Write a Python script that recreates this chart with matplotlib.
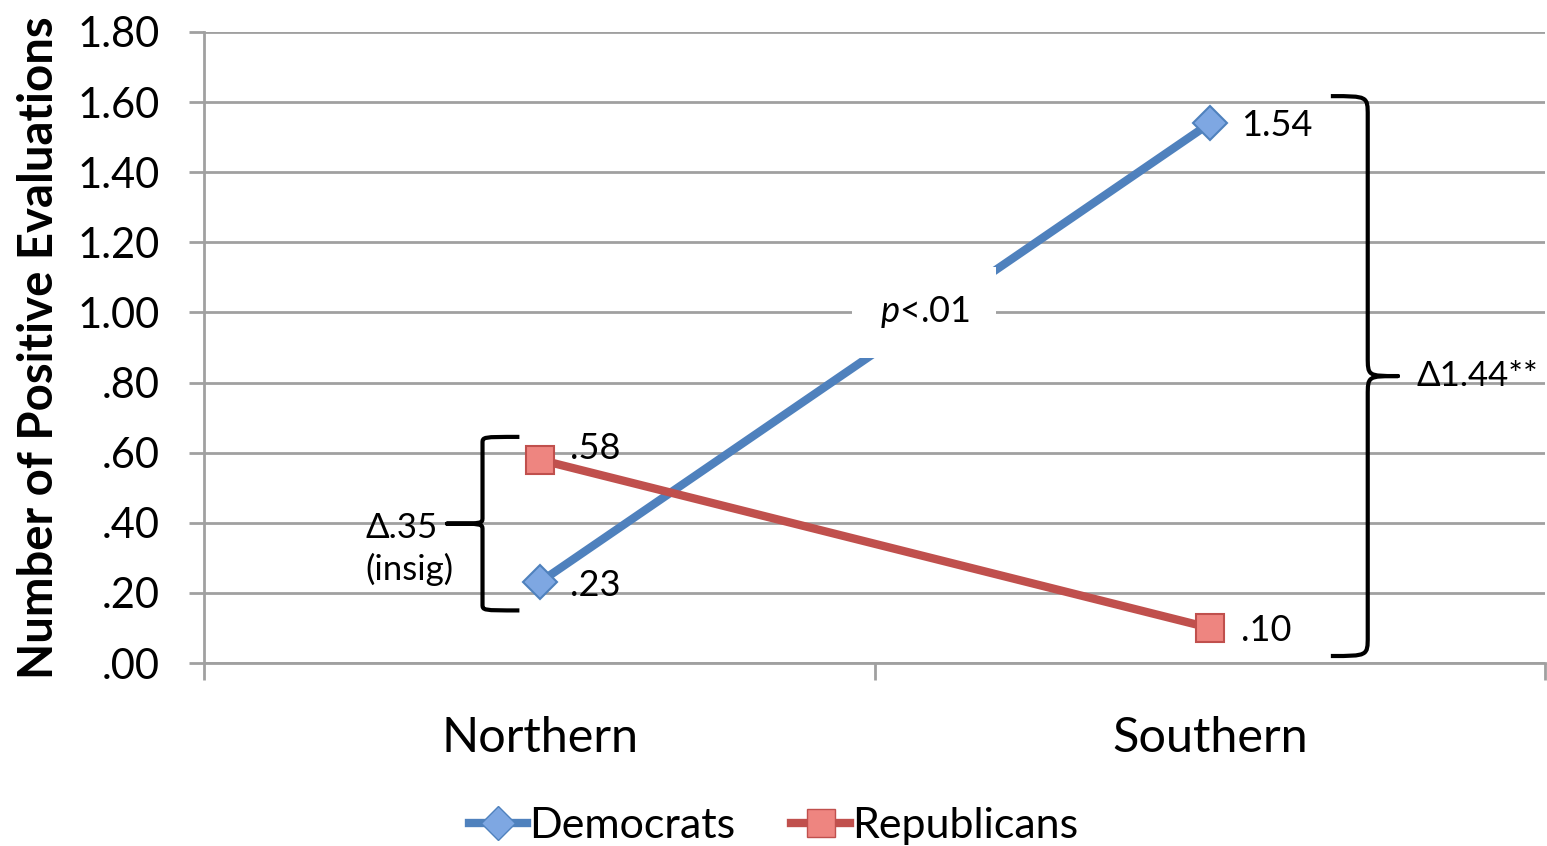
import numpy as np
import matplotlib.pyplot as plt
from matplotlib.path import Path
from matplotlib.patches import PathPatch
from matplotlib.lines import Line2D

plt.rcParams['font.family'] = ['Lato', 'DejaVu Sans']
plt.rcParams['mathtext.fontset'] = 'custom'
plt.rcParams['mathtext.it'] = 'Lato:italic'
plt.rcParams['mathtext.rm'] = 'Lato'

# Region categories and mean counts for each party
regions = ['Northern', 'Southern']
democrats = [0.23, 1.54]
republicans = [0.58, 0.10]
dem_labels = ['.23', '1.54']
rep_labels = ['.58', '.10']
yticks = np.arange(0, 1.81, 0.2)
ytick_labels = ['.00', '.20', '.40', '.60', '.80', '1.00', '1.20', '1.40', '1.60', '1.80']

blue, blue_fill = '#4F81BD', '#7EA7E2'
red, red_fill = '#C0504D', '#EE8580'
grid_c = '#A0A0A0'

fig = plt.figure(figsize=(15.47, 8.46), dpi=100)
ax = fig.add_axes([0.132, 0.2163, 0.867, 0.7459])

x = np.array([0.5, 1.5])
ax.plot(x, democrats, color=blue, lw=6, marker='D', ms=17, mfc=blue_fill,
        mec=blue, mew=1.5, zorder=3, solid_capstyle='butt')
ax.plot(x, republicans, color=red, lw=6, marker='s', ms=20, mfc=red_fill,
        mec=red, mew=1.5, zorder=3, solid_capstyle='butt')

for xi, v, s in zip(x, democrats, dem_labels):
    ax.annotate(s, (xi, v), xytext=(22, -2), textcoords='offset points',
                ha='left', va='center', fontsize=26)
for xi, v, s in zip(x, republicans, rep_labels):
    ax.annotate(s, (xi, v), xytext=(22, 8 if v > 0.3 else -2), textcoords='offset points',
                ha='left', va='center', fontsize=26)

ax.set_xlim(0, 2)
ax.set_ylim(0, 1.8)
ax.set_yticks(yticks)
ax.set_yticklabels(ytick_labels, fontsize=30)
ax.set_xticks([0, 1, 2])
ax.set_xticklabels([])
ax.set_xticks(x, minor=True)
ax.set_xticklabels(regions, minor=True, fontsize=35)
ax.tick_params(axis='x', which='minor', length=0, pad=38)
ax.tick_params(axis='x', which='major', length=12, color=grid_c, width=2)
ax.tick_params(axis='y', length=11, color=grid_c, width=2, pad=21)
ax.yaxis.grid(True, color=grid_c, lw=2)
ax.set_axisbelow(True)
for side in ['top', 'right']:
    ax.spines[side].set_visible(False)
for side in ['left', 'bottom']:
    ax.spines[side].set_color(grid_c)
    ax.spines[side].set_linewidth(2)
ax.set_ylabel('Number of Positive Evaluations', fontsize=34, fontweight='bold', labelpad=12)


def brace(ax, x0, y0, y1, width, tip):
    # curly brace with ends at x0, spine at x0 - width and point at x0 - tip
    ym = (y0 + y1) / 2
    xv = x0 - width
    xt = x0 - tip
    r = (y1 - y0) * 0.035
    verts = [(x0, y1),
             (xv, y1), (xv, y1), (xv, y1 - r),
             (xv, ym + r),
             (xv, ym), (xv, ym), (xt, ym),
             (xv, ym), (xv, ym), (xv, ym - r),
             (xv, y0 + r),
             (xv, y0), (xv, y0), (x0, y0)]
    codes = [Path.MOVETO,
             Path.CURVE4, Path.CURVE4, Path.CURVE4,
             Path.LINETO,
             Path.CURVE4, Path.CURVE4, Path.CURVE4,
             Path.CURVE4, Path.CURVE4, Path.CURVE4,
             Path.LINETO,
             Path.CURVE4, Path.CURVE4, Path.CURVE4]
    ax.add_patch(PathPatch(Path(verts, codes), fc='none', ec='black', lw=3,
                           capstyle='butt', joinstyle='round', zorder=4, clip_on=False))


# Northern gap
brace(ax, 0.47, republicans[1] + 0.05, republicans[0] + 0.065, 0.055, 0.108)
ax.text(0.24, 0.325, '\u0394.35\n(insig)', fontsize=25, ha='left', va='center',
        linespacing=1.35)
# Southern gap
lo, hi = republicans[1] - 0.08, democrats[1] + 0.077
brace(ax, 1.68, lo, hi, -0.055, -0.1)
ax.text(1.807, (lo + hi) / 2, '\u03941.44**', fontsize=25, ha='left', va='center')

ax.text(1.074, 1.0, r'$\mathit{p}$<.01', fontsize=26, ha='center', va='center', zorder=5,
        bbox=dict(boxstyle='square,pad=0.75', fc='white', ec='none'))

handles = [Line2D([], [], color=blue, lw=6, marker='D', ms=17, mfc=blue_fill, mec=blue),
           Line2D([], [], color=red, lw=6, marker='s', ms=20, mfc=red_fill, mec=red)]
fig.legend(handles, ['Democrats', 'Republicans'], loc='lower center',
           bbox_to_anchor=(0.5, -0.045), ncol=2, frameon=False, fontsize=31,
           handlelength=1.35, handletextpad=0.05, columnspacing=1.3)

fig.savefig('out.png', dpi=100)
